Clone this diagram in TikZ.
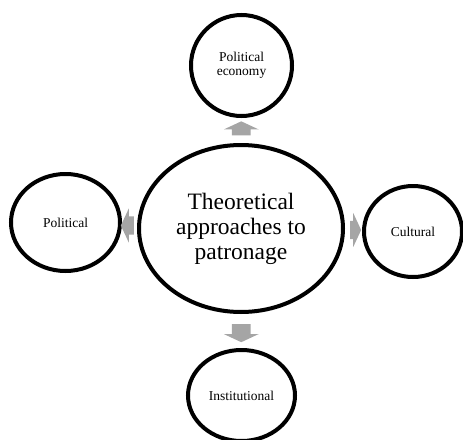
\documentclass[tikz,border=0pt]{standalone}
\usepackage{fontspec}
\setmainfont{Liberation Serif}
\usetikzlibrary{shapes.geometric,shapes.arrows,calc}
\definecolor{arrowgray}{HTML}{A5A5A5}

\begin{document}
\begin{tikzpicture}[x=1pt,y=-1pt,
		ring/.style={ellipse,draw,line width=4pt,inner sep=0pt,align=center,
			font=\fontsize{13.5}{14}\selectfont},
		blockarrow/.style={single arrow,fill=arrowgray,draw=none,inner xsep=0pt,inner ysep=9pt,
			single arrow head extend=8pt,single arrow tip angle=130}]
		\useasboundingbox (0,0) rectangle (463,439);
		
		\node[ring,minimum width=204pt,minimum height=167pt,font=\fontsize{23.5}{25}\selectfont] (c) at (241,228.5) {Theoretical\\approaches to\\patronage};
		
		\node[ring,minimum width=101pt,minimum height=101pt] (pe) at (241.5,65.5) {Political\\economy};
		\node[ring,minimum width=109pt,minimum height=97pt] (pol) at (65.5,222.5) {Political};
		\node[ring,minimum width=98pt,minimum height=91pt] (cul) at (413,231.5) {Cultural};
		\node[ring,minimum width=107pt,minimum height=91pt] (inst) at (241.5,395.5) {Institutional};
		
		% gray arrows half way between the rings
		\node[blockarrow,rotate=90,minimum width=35pt,minimum height=14pt] (a1) at ($(c.north)!0.5!(pe.south)$) {};
		\node[blockarrow,rotate=-90,minimum width=35pt,minimum height=18pt] (a2) at ($(c.south)!0.5!(inst.north)$) {};
		\node[blockarrow,rotate=180,minimum width=29pt,minimum height=13pt] (a3) at ($(c.west)!0.5!(pol.east)$) {};
		\node[blockarrow,minimum width=31pt,minimum height=11pt] (a4) at ($(c.east)!0.5!(cul.west)$) {};
	\end{tikzpicture}
\end{document}
